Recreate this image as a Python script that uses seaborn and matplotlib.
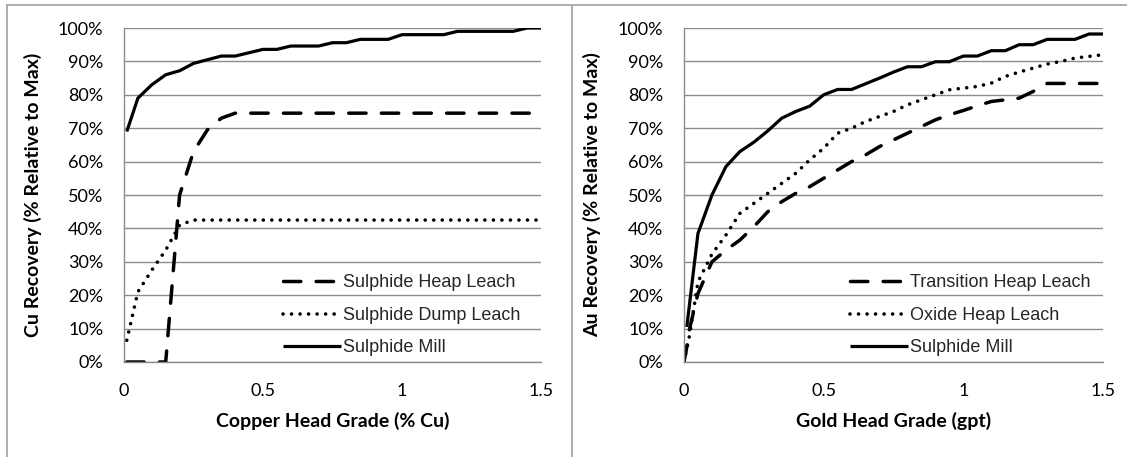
import matplotlib
matplotlib.use("Agg")
import matplotlib.pyplot as plt
from matplotlib.lines import Line2D
from matplotlib.ticker import PercentFormatter
import seaborn as sns

# Copper recovery curves (percent of maximum recovery) against head grade (% Cu)
cu_grade = [0.01, 0.05, 0.10, 0.15, 0.20, 0.25, 0.30, 0.35, 0.40, 0.45, 0.50,
            0.55, 0.60, 0.65, 0.70, 0.75, 0.80, 0.85, 0.90, 0.95, 1.00, 1.05,
            1.10, 1.15, 1.20, 1.25, 1.30, 1.35, 1.40, 1.45, 1.50]
cu_heap_leach = [0, 0, 0, 0, 50, 63, 69.5, 73, 74.5, 74.5, 74.5,
                 74.5, 74.5, 74.5, 74.5, 74.5, 74.5, 74.5, 74.5, 74.5, 74.5, 74.5,
                 74.5, 74.5, 74.5, 74.5, 74.5, 74.5, 74.5, 74.5, 74.5]
cu_dump_leach = [6.5, 21, 27.5, 33.5, 41, 42.5, 42.5, 42.5, 42.5, 42.5, 42.5,
                 42.5, 42.5, 42.5, 42.5, 42.5, 42.5, 42.5, 42.5, 42.5, 42.5, 42.5,
                 42.5, 42.5, 42.5, 42.5, 42.5, 42.5, 42.5, 42.5, 42.5]
cu_mill = [69, 79, 83, 86, 87.2, 89.4, 90.5, 91.6, 91.6, 92.6, 93.6,
           93.6, 94.6, 94.6, 94.6, 95.6, 95.6, 96.6, 96.6, 96.6, 98, 98,
           98, 98, 99, 99, 99, 99, 99, 100, 100]

# Gold recovery curves (percent of maximum recovery) against head grade (gpt)
au_grade_leach = [0.0, 0.01, 0.02, 0.05, 0.10, 0.15, 0.20, 0.25, 0.30, 0.35, 0.40,
                  0.45, 0.50, 0.55, 0.60, 0.65, 0.70, 0.75, 0.80, 0.85, 0.90, 0.95,
                  1.00, 1.05, 1.10, 1.15, 1.20, 1.25, 1.30, 1.35, 1.40, 1.45, 1.50]
au_transition_heap = [0, 4.5, 10, 20.5, 30, 33.5, 36.5, 40.5, 45, 48, 50.5,
                      52.5, 55, 57.5, 60, 62, 64.5, 66.5, 68.5, 70.5, 72.5, 74,
                      75.3, 76.7, 78, 78.5, 79, 81, 83.4, 83.4, 83.4, 83.4, 83.4]
au_oxide_heap = [0, 4, 8, 24, 32.3, 38, 44.5, 47.5, 50.5, 53.5, 56.5,
                 60.5, 64, 68.5, 70, 72, 73.5, 75, 77, 78.5, 80, 81.5,
                 82, 82.5, 83.5, 85.5, 86.8, 88, 89.2, 90, 91, 91.5, 92]
au_grade_mill = [0.01, 0.05, 0.10, 0.15, 0.20, 0.25, 0.30, 0.35, 0.40, 0.45, 0.50,
                 0.55, 0.60, 0.65, 0.70, 0.75, 0.80, 0.85, 0.90, 0.95, 1.00, 1.05,
                 1.10, 1.15, 1.20, 1.25, 1.30, 1.35, 1.40, 1.45, 1.50]
au_mill = [10.5, 38.5, 50, 58.5, 63, 65.8, 69.2, 73, 75, 76.6, 80,
           81.6, 81.6, 83.3, 85, 86.8, 88.4, 88.4, 89.9, 89.9, 91.6, 91.6,
           93.2, 93.2, 95, 95, 96.6, 96.6, 96.6, 98.2, 98.2]

x_ticks = [0, 0.5, 1, 1.5]
x_tick_labels = ["0", "0.5", "1", "1.5"]
y_ticks = [0, 10, 20, 30, 40, 50, 60, 70, 80, 90, 100]

sns.set_theme(style="white")
plt.rcParams["font.family"] = ["Lato", "DejaVu Sans"]

GRID = "#8c8c8c"
FRAME = "#a8a8a8"
DASHED = dict(linestyle=(0, (5.0, 4.4)), dash_capstyle="round", lw=2.5)
DOTTED = dict(linestyle=(0, (0.01, 2.35)), dash_capstyle="round", lw=2.6)
SOLID = dict(linestyle="-", solid_capstyle="butt", lw=2.3)

W, H = 1127, 457
fig = plt.figure(figsize=(W / 100, H / 100), dpi=100)
fig.patch.set_facecolor("white")

ax_cu = fig.add_axes([124 / W, 1 - 362 / H, 417 / W, 334 / H])
ax_au = fig.add_axes([684 / W, 1 - 362 / H, 419 / W, 334 / H])


def draw(ax, x, y, label, style):
    sns.lineplot(x=x, y=y, ax=ax, color="black", label=label,
                 estimator=None, sort=False, **style)


draw(ax_cu, cu_grade, cu_heap_leach, "Sulphide Heap Leach", DASHED)
draw(ax_cu, cu_grade, cu_dump_leach, "Sulphide Dump Leach", DOTTED)
draw(ax_cu, cu_grade, cu_mill, "Sulphide Mill", SOLID)

draw(ax_au, au_grade_leach, au_transition_heap, "Transition Heap Leach", DASHED)
draw(ax_au, au_grade_leach, au_oxide_heap, "Oxide Heap Leach", DOTTED)
draw(ax_au, au_grade_mill, au_mill, "Sulphide Mill", SOLID)

for ax, xlabel, ylabel, leg_x in [
    (ax_cu, "Copper Head Grade (% Cu)", "Cu Recovery (% Relative to Max)", 0.381),
    (ax_au, "Gold Head Grade (gpt)", "Au Recovery (% Relative to Max)", 0.396),
]:
    ax.set_xlim(0, 1.5)
    ax.set_ylim(0, 100)
    ax.set_xticks(x_ticks, x_tick_labels)
    ax.set_yticks(y_ticks)
    ax.yaxis.set_major_formatter(PercentFormatter(100, decimals=0))
    ax.set_facecolor("white")
    ax.grid(False)
    ax.yaxis.grid(True, color=GRID, lw=1.0)
    ax.set_axisbelow(True)
    for side in ("top", "right"):
        ax.spines[side].set_visible(False)
    for side in ("left", "bottom"):
        ax.spines[side].set_color(GRID)
        ax.spines[side].set_linewidth(1.0)
    ax.tick_params(axis="both", which="major", direction="out", length=6,
                   width=1.0, color=GRID, labelsize=13, labelcolor="black")
    ax.tick_params(axis="y", pad=9)
    ax.tick_params(axis="x", pad=9)
    ax.set_xlabel(xlabel, fontsize=14, fontweight="bold", color="black")
    ax.set_ylabel(ylabel, fontsize=14, fontweight="bold", color="black")
    ax.xaxis.set_label_coords(0.5, -0.150)
    ax.yaxis.set_label_coords(-0.197, 0.5)
    ax.legend(loc="upper left", bbox_to_anchor=(leg_x, 0.262), frameon=False,
              prop={"family": "Liberation Sans", "size": 13},
              handlelength=3.2, handletextpad=0.15, labelspacing=0.85,
              borderpad=0, borderaxespad=0)

# Panel frames
fig.add_artist(Line2D([7 / W, 1], [1 - 5 / H, 1 - 5 / H], transform=fig.transFigure,
                      color=FRAME, lw=1.3))
fig.add_artist(Line2D([7 / W, 7 / W], [0, 1 - 5 / H], transform=fig.transFigure,
                      color=FRAME, lw=1.3))
fig.add_artist(Line2D([572 / W, 572 / W], [0, 1 - 5 / H], transform=fig.transFigure,
                      color=FRAME, lw=1.3))

fig.savefig("out.png", dpi=100, facecolor="white")
